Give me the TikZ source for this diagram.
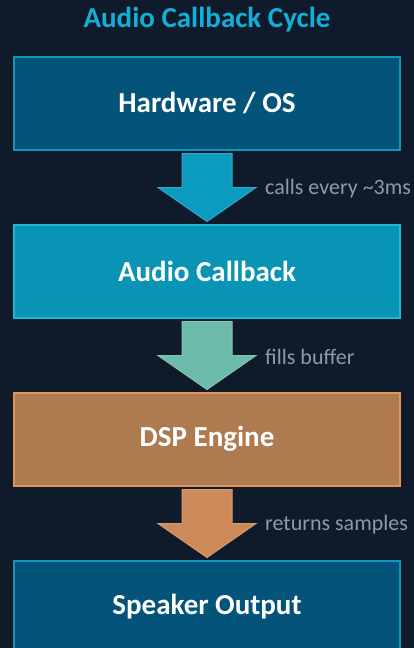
\documentclass[tikz,border=0pt]{standalone}
\usepackage{fontspec}
\setmainfont{Carlito}
\usetikzlibrary{positioning, calc}
\definecolor{cycBg}{HTML}{0F1A2A}
\definecolor{cycTitle}{HTML}{12B0D8}
\definecolor{cycNavy}{HTML}{03537A}
\definecolor{cycNavyEdge}{HTML}{1096BA}
\definecolor{cycCyan}{HTML}{0993B5}
\definecolor{cycCyanEdge}{HTML}{1BB8DA}
\definecolor{cycBrown}{HTML}{AE7A50}
\definecolor{cycBrownEdge}{HTML}{E0955A}
\definecolor{cycArrowA}{HTML}{0A9BBE}
\definecolor{cycArrowB}{HTML}{6CBBAA}
\definecolor{cycArrowC}{HTML}{CD8A58}
\definecolor{cycNote}{HTML}{8A9BAA}

\begin{document}
\begin{tikzpicture}[
    node distance=73pt,
    stage/.style={rectangle, line width=2pt, minimum width=386pt, minimum height=93pt,
                  font=\fontsize{29}{33}\selectfont\bfseries, text=white, inner sep=0pt},
    navy/.style={stage, fill=cycNavy, draw=cycNavyEdge},
    cyan/.style={stage, fill=cycCyan, draw=cycCyanEdge},
    brown/.style={stage, fill=cycBrown, draw=cycBrownEdge},
    flow/.style={line width=1pt, line join=miter},
    note/.style={font=\fontsize{22}{25}\selectfont, text=cycNote, anchor=west, inner sep=1pt},
  ]
    \fill[cycBg] (0,0) rectangle (414pt,-648pt);
    \useasboundingbox (0,0) rectangle (414pt,-648pt);

    \node[font=\fontsize{29}{33}\selectfont\bfseries, text=cycTitle] (title) at (207pt,-20pt) {Audio Callback Cycle};

    \node[navy] (hw) at (207pt,-103pt) {Hardware / OS};
    \node[cyan, below=of hw] (cb) {Audio Callback};
    \node[brown, below=of cb] (dsp) {DSP Engine};
    \begin{scope}
      \clip (0,0) rectangle (414pt,-648pt);
      \node[navy, below=of dsp] (spk) {Speaker Output};
    \end{scope}

    % block arrows between the stages
    \foreach \a/\b/\c/\t in {hw/cb/cycArrowA/calls every \textasciitilde3ms,
                             cb/dsp/cycArrowB/fills buffer,
                             dsp/spk/cycArrowC/returns samples}{
      \draw[flow, fill=\c, draw=\c!85!white]
        ([xshift=-25pt,yshift=-3pt]\a.south) -- ([xshift=25pt,yshift=-3pt]\a.south)
        -- ([xshift=25pt,yshift=36pt]\b.north) -- ([xshift=49pt,yshift=36pt]\b.north)
        -- ([yshift=2pt]\b.north) -- ([xshift=-49pt,yshift=36pt]\b.north)
        -- ([xshift=-25pt,yshift=36pt]\b.north) -- cycle;
      \node[note] (n\a) at ([xshift=57pt,yshift=35pt]\b.north) {\t};
    }
  \end{tikzpicture}
\end{document}
